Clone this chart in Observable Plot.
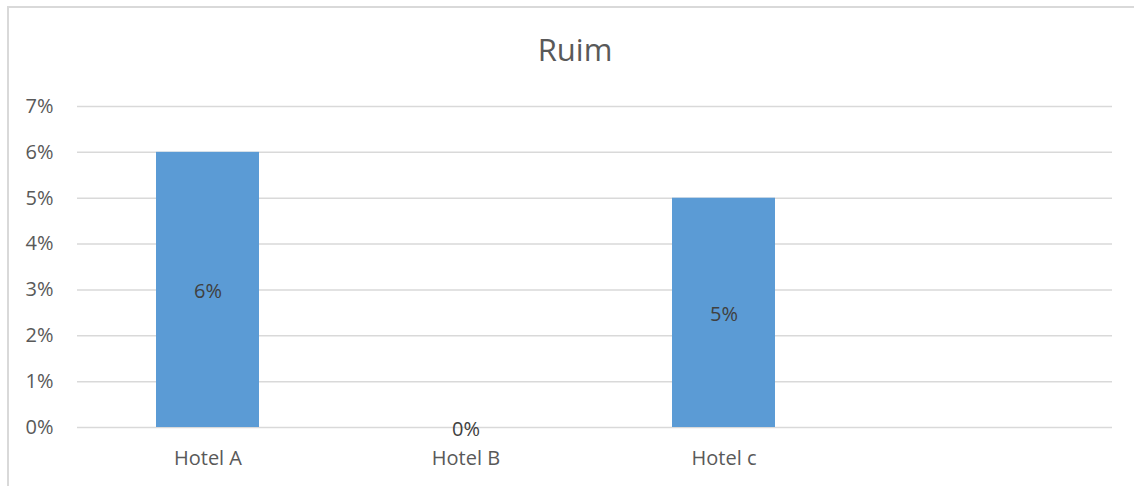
<!DOCTYPE html>
<html>
<head>
<meta charset="utf-8">
<script src="https://cdn.jsdelivr.net/npm/d3@7"></script>
<script src="https://cdn.jsdelivr.net/npm/@observablehq/plot@0.6"></script>
<style>
  html, body { margin: 0; padding: 0; background: #fff; overflow: hidden; }
  body { width: 1134px; height: 486px; position: relative; font-family: "Open Sans", sans-serif; }
  #frame { position: absolute; left: 7px; top: 6px; width: 1140px; height: 500px; border: 2px solid #d9d9d9; box-sizing: border-box; }
  #title { position: absolute; left: 0; width: 1150px; top: 29px; text-align: center; font-size: 31px; color: #595959; line-height: 40px; }
  #chart { position: absolute; left: 0; top: 80px; }
</style>
</head>
<body>
<div id="frame"></div>
<div id="title">Ruim</div>
<div id="chart"></div>
<script>
// Hotel categories (the last slot is an empty category) and their shares
const hotels = ["Hotel A", "Hotel B", "Hotel c", ""];
const shares = [0.06, 0, 0.05, null];
const yTicks = [0, 0.01, 0.02, 0.03, 0.04, 0.05, 0.06, 0.07];

const rows = hotels.map((h, i) => ({hotel: h, share: shares[i]}));
const labelled = rows.filter(d => d.share != null);
const pct = d3.format(".0%");

const chart = Plot.plot({
  width: 1134,
  height: 406,
  marginLeft: 77,
  marginRight: 22,
  marginTop: 26,
  marginBottom: 59,
  style: {fontFamily: "'Open Sans', sans-serif", fontSize: "20px", color: "#595959", background: "transparent"},
  x: {domain: hotels, paddingInner: 0.6, paddingOuter: 0.3, label: null},
  y: {domain: [0, 0.07], label: null},
  marks: [
    Plot.ruleY(yTicks, {stroke: "#d9d9d9", strokeWidth: 1.5}),
    Plot.barY(labelled, {x: "hotel", y: "share", fill: "#5b9bd5"}),
    Plot.axisY({ticks: yTicks, tickFormat: pct, tickSize: 0, tickPadding: 24, fontSize: 20, label: null}),
    Plot.axisX({tickSize: 0, tickPadding: 23, fontSize: 20, label: null}),
    Plot.text(labelled, {x: "hotel", y: d => d.share / 2, text: d => pct(d.share), fill: "#404040", fontSize: 20, dy: 2})
  ]
});
document.getElementById("chart").appendChild(chart);
</script>
</body>
</html>
